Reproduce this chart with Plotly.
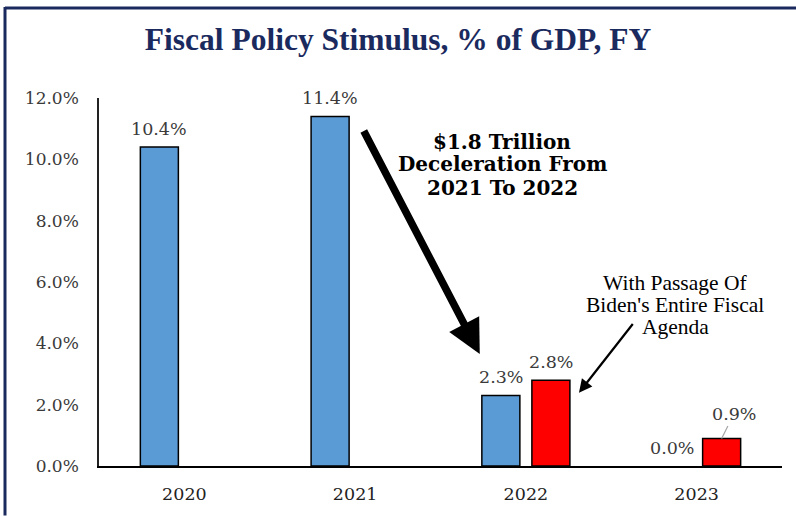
import plotly.graph_objects as go

categories = ["2020", "2021", "2022", "2023"]
current_policy = [10.4, 11.4, 2.3, 0.0]
biden_agenda = [None, None, 2.8, 0.9]
y_ticks = [0, 2, 4, 6, 8, 10, 12]
y_tick_labels = [f"{v:.1f}%" for v in y_ticks]

BLUE = "#5B9BD5"
RED = "#FF0000"
NAVY = "#1B2A5E"
LABEL = "#3A3A3A"
SERIF = "DejaVu Serif"


def outline(vals):
    return [1.5 if (v is not None and v > 0) else 0 for v in vals]


fig = go.Figure()
fig.add_trace(go.Bar(x=categories, y=current_policy,
                     marker=dict(color=BLUE, line=dict(color="black", width=outline(current_policy))),
                     hoverinfo="skip"))
fig.add_trace(go.Bar(x=categories, y=biden_agenda,
                     marker=dict(color=RED, line=dict(color="black", width=outline(biden_agenda))),
                     hoverinfo="skip"))

annotations = []
# data labels (x given as category index)
for i, v in enumerate(current_policy):
    if v is None:
        continue
    annotations.append(dict(x=i, y=v, xref="x", yref="y", text=f"{v:.1f}%", showarrow=False,
                            xshift=-25, yshift=6, yanchor="bottom",
                            font=dict(family=SERIF, size=17.5, color=LABEL)))
for i, v in enumerate(biden_agenda):
    if v is None:
        continue
    if categories[i] == "2023":
        annotations.append(dict(x=i, y=v, xref="x", yref="y", text=f"{v:.1f}%", showarrow=True,
                                arrowhead=0, arrowcolor="#A6A6A6", arrowwidth=1.2,
                                ax=12, ay=-24, xshift=25, standoff=0,
                                font=dict(family=SERIF, size=17.5, color=LABEL)))
    else:
        annotations.append(dict(x=i, y=v, xref="x", yref="y", text=f"{v:.1f}%", showarrow=False,
                                xshift=25, yshift=6, yanchor="bottom",
                                font=dict(family=SERIF, size=17.5, color=LABEL)))

# big black arrow
annotations.append(dict(x=1.73, y=3.65, ax=1.046, ay=10.97, xref="x", yref="y", axref="x", ayref="y",
                        text="", showarrow=True, arrowhead=2, arrowsize=0.9, arrowwidth=7.5, arrowcolor="black"))
for line, yy in [("$1.8 Trillion", 142), ("Deceleration From", 165), ("2021 To 2022", 189)]:
    annotations.append(dict(x=(502 - 99) / 683, y=(470 - yy) / 372, xref="paper", yref="paper",
                            text=f"<b>{line}</b>", showarrow=False, yanchor="middle", xanchor="center",
                            font=dict(family=SERIF, size=20, color="black")))

# small arrow
annotations.append(dict(x=2.311, y=2.39, ax=2.633, ay=4.68, xref="x", yref="y", axref="x", ayref="y",
                        text="", showarrow=True, arrowhead=2, arrowsize=1.2, arrowwidth=2.2, arrowcolor="black"))
for line, yy in [("With Passage Of", 285), ("Biden's Entire Fiscal", 307), ("Agenda", 329)]:
    annotations.append(dict(x=(675 - 99) / 683, y=(470 - yy) / 372, xref="paper", yref="paper",
                            text=line, showarrow=False, yanchor="middle", xanchor="center",
                            font=dict(family="Liberation Serif", size=21.5, color="black")))

shapes = [
    dict(type="line", xref="paper", yref="paper", x0=(5 - 99) / 683, x1=(800 - 99) / 683,
         y0=(470 - 7) / 372, y1=(470 - 7) / 372, line=dict(color=NAVY, width=3)),
    dict(type="line", xref="paper", yref="paper", x0=(5 - 99) / 683, x1=(5 - 99) / 683,
         y0=(470 - 6) / 372, y1=(470 - 520) / 372, line=dict(color=NAVY, width=3)),
]

fig.update_layout(
    width=796, height=516,
    margin=dict(l=99, r=14, t=98, b=46),
    paper_bgcolor="white", plot_bgcolor="white",
    barmode="group", bargap=0.414, bargroupgap=0.24,
    showlegend=False,
    title=dict(text="<b>Fiscal Policy Stimulus, % of GDP, FY</b>", x=0.5, xanchor="center",
               y=1 - 39 / 516, yanchor="middle",
               font=dict(family="Liberation Serif", size=31.5, color=NAVY)),
    annotations=annotations,
    shapes=shapes,
)
fig.update_xaxes(type="category", range=[-0.5, len(categories) - 0.5], autorange=False,
                 showline=True, linecolor="black", linewidth=1.5, showgrid=False, ticks="",
                 ticklabelstandoff=11, tickfont=dict(family=SERIF, size=17.5, color="#222222"))
fig.update_yaxes(range=[0, 12], autorange=False, showline=True, linecolor="#222222", linewidth=1.5,
                 showgrid=False, zeroline=False, tickvals=y_ticks, ticktext=y_tick_labels, ticks="",
                 ticklabelstandoff=15, tickfont=dict(family=SERIF, size=17, color=LABEL))

fig.write_html("out.html")
